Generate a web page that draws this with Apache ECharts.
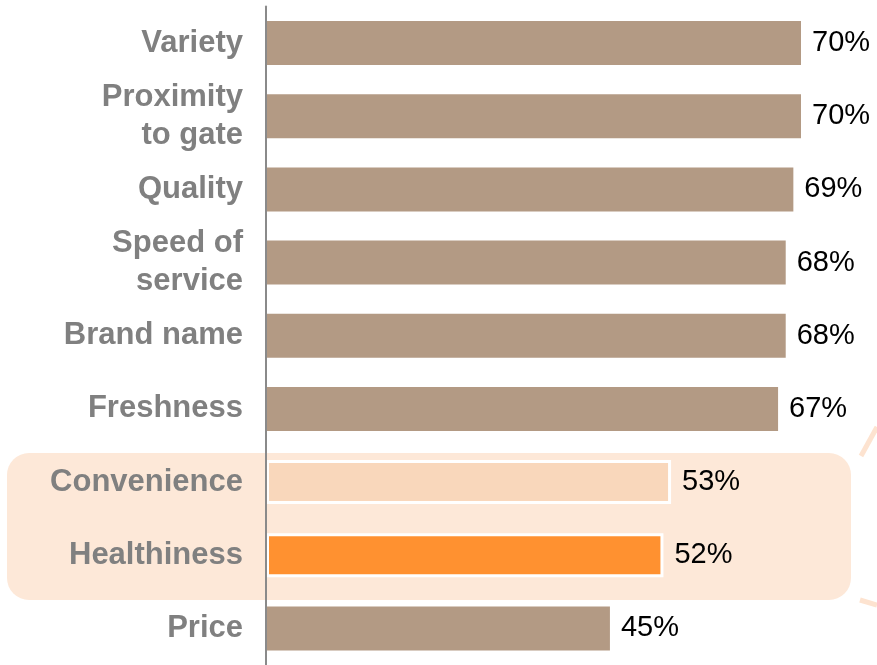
<!DOCTYPE html>
<html>
<head>
<meta charset="utf-8">
<script src="https://cdn.jsdelivr.net/npm/echarts@6/dist/echarts.min.js"></script>
<style>
  html, body { margin: 0; padding: 0; background: #fff; }
  #chart { width: 877px; height: 665px; }
</style>
</head>
<body>
<div id="chart"></div>
<script>
// Purchase drivers, share of respondents (%)
const categories = [
  'Variety', 'Proximity\nto gate', 'Quality', 'Speed of\nservice',
  'Brand name', 'Freshness', 'Convenience', 'Healthiness', 'Price'
];
const values = [70, 70, 69, 68, 68, 67, 53, 52, 45];
const barColors = [
  '#b39a84', '#b39a84', '#b39a84', '#b39a84',
  '#b39a84', '#b39a84', '#f9d7bb', '#ff9130', '#b39a84'
];
const highlighted = ['Convenience', 'Healthiness'];

const chart = echarts.init(document.getElementById('chart'), null, { renderer: 'canvas' });

const seriesData = values.map((v, i) => ({
  value: v,
  itemStyle: highlighted.includes(categories[i])
    ? { color: barColors[i], borderColor: '#ffffff', borderWidth: 3 }
    : { color: barColors[i] }
}));

chart.setOption({
  animation: false,
  backgroundColor: '#ffffff',
  grid: { left: 266, right: 76, top: 6.5, height: 661, containLabel: false },
  xAxis: {
    type: 'value', min: 0, max: 70,
    show: false
  },
  yAxis: {
    type: 'category',
    data: categories,
    inverse: true,
    axisLine: { show: true, lineStyle: { color: '#8a8a8a', width: 2 } },
    axisTick: { show: false },
    axisLabel: {
      margin: 23,
      color: '#808080',
      fontFamily: 'Liberation Sans, Arial, sans-serif',
      fontWeight: 'bold',
      fontSize: 31,
      lineHeight: 38,
      align: 'right',
      padding: [2, 0, 0, 0]
    },
    z: 5
  },
  graphic: [
    {
      type: 'rect', z: -10,
      shape: { x: 7, y: 453, width: 844, height: 147, r: 22 },
      style: { fill: '#fde8d8' }
    },
    {
      type: 'line', z: -10,
      shape: { x1: 861, y1: 456, x2: 877, y2: 427 },
      style: { stroke: '#fde3d0', lineWidth: 5 }
    },
    {
      type: 'line', z: -10,
      shape: { x1: 860, y1: 600, x2: 877, y2: 605 },
      style: { stroke: '#fde3d0', lineWidth: 5 }
    }
  ],
  series: [{
    type: 'bar',
    data: seriesData,
    barWidth: 44,
    z: 2,
    label: {
      show: true,
      position: 'right',
      distance: 11,
      formatter: '{c}%',
      color: '#000000',
      fontFamily: 'Liberation Sans, Arial, sans-serif',
      fontSize: 29
    }
  }]
});
</script>
</body>
</html>
